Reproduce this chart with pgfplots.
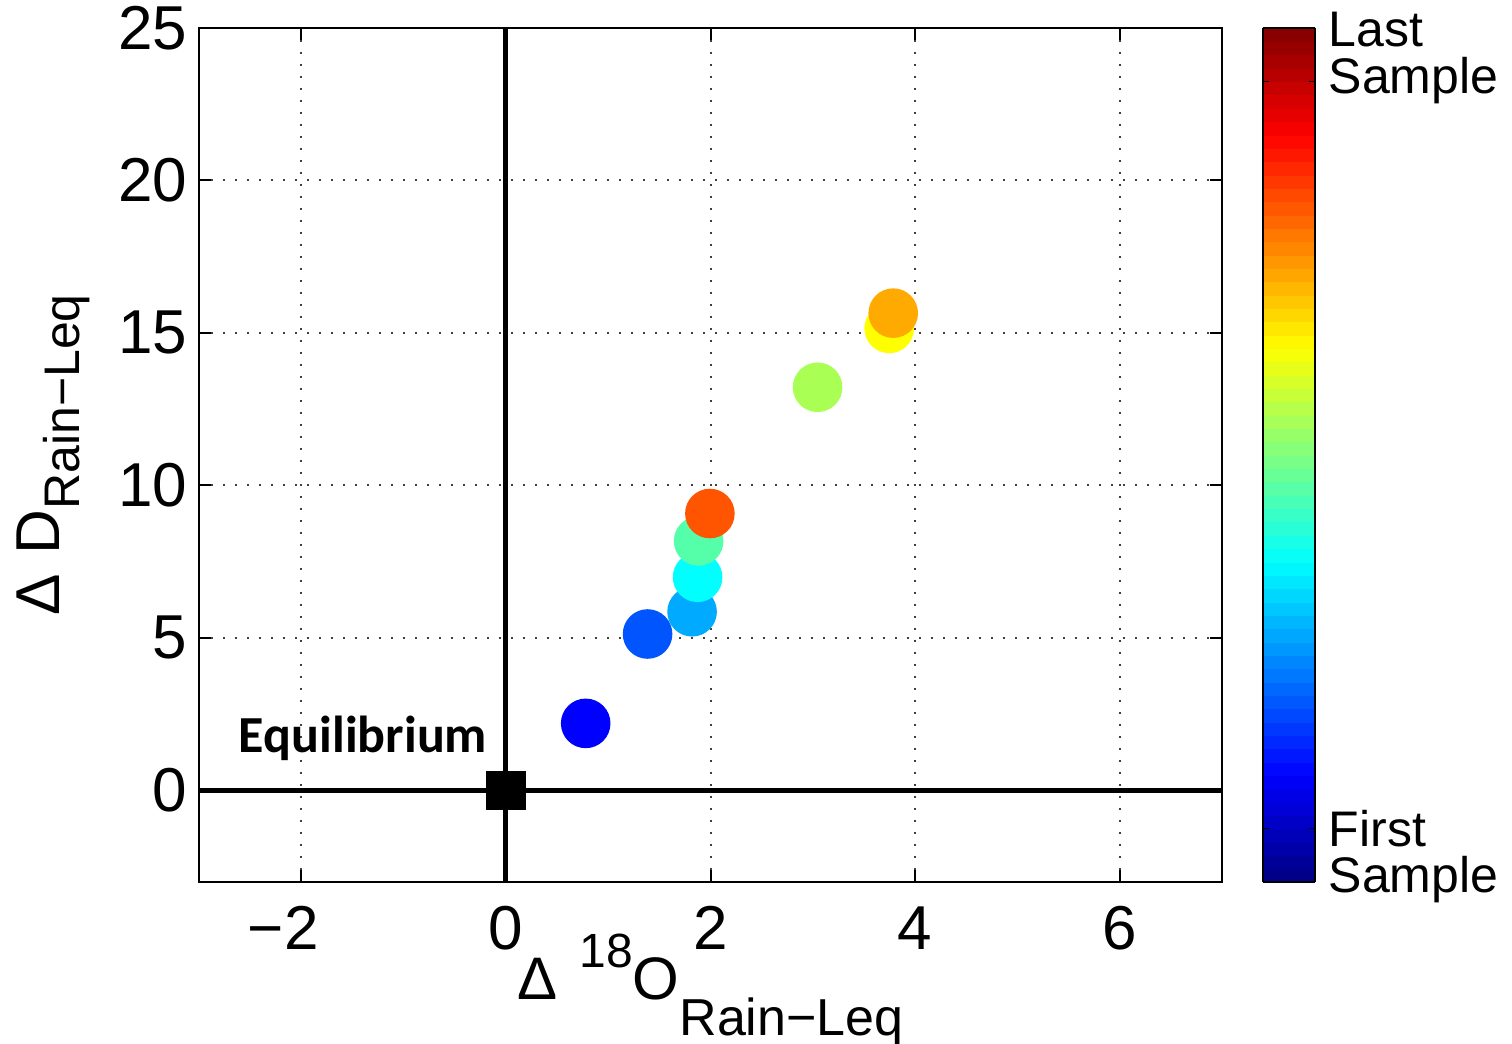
\documentclass[border=0pt]{standalone}
\usepackage{fontspec}
\setmainfont{Liberation Sans}
\newfontfamily\calibri{Carlito}
\usepackage{pgfplots}
\pgfplotsset{compat=1.18}

% Matlab-like jet
\pgfplotsset{
  colormap={matjet}{rgb255(0cm)=(0,0,128) rgb255(1cm)=(0,0,255) rgb255(3cm)=(0,255,255)
    rgb255(5cm)=(255,255,0) rgb255(7cm)=(255,0,0) rgb255(8cm)=(128,0,0)}
}

\begin{document}
\begin{tikzpicture}
\useasboundingbox (-49.75pt,-40.5pt) rectangle (328.25pt,220.5pt);
\begin{axis}[
  name=ax,
  at={(0,0)}, anchor=south west,
  scale only axis,
  width=255.75pt, height=213.5pt,
  xmin=-3, xmax=7, ymin=-3, ymax=25,
  xtick={-2,0,2,4,6}, xticklabels={\llap{−}2,0,2,4,6},
  ytick={0,5,10,15,20,25}, yticklabels={0,5,10,15,20,25},
  tick align=inside, major tick length=3pt,
  every tick/.style={black, line width=0.5pt},
  axis line style={line width=0.5pt},
  grid=major,
  major grid style={line width=0.5pt, black!75, dash pattern=on 0.5pt off 2.5pt},
  tick label style={font=\fontsize{15.5}{16}\selectfont},
  xticklabel style={anchor=base, yshift=-17pt, inner sep=0pt},
  yticklabel style={anchor=east, inner sep=0pt, xshift=-2.75pt},
  colormap name=matjet,
  point meta min=-0.5, point meta max=11.5,
  colorbar right,
  colorbar sampled,
  colorbar style={
    at={(parent axis.north east)}, anchor=north west, xshift=1.71pt,
    width=13pt,
    samples=65,
    ytick={0.25,10.75}, yticklabels={\relax,\relax},
    major tick length=1.5pt, tick align=inside, ytick pos=both,
    axis line style={line width=0.5pt},
    every tick/.style={black, line width=0.4pt},
  },
]
\addplot[black, line width=1.2pt] coordinates {(0,-3) (0,25)};
\addplot[black, line width=1.2pt] coordinates {(-3,0) (7,0)};
\addplot[only marks, mark=square*, mark size=4.75pt, black] coordinates {(0,0)};
\addplot[scatter, only marks, mark=*, mark size=6pt, point meta=explicit,
  scatter/use mapped color={draw=mapped color, fill=mapped color}]
  table[x=x, y=y, meta=c] {
x     y     c
0.78  2.20  1
1.385 5.13  2
1.82  5.86  3
1.874 6.99  4
1.884 8.18  5
3.047 13.22 6
3.747 15.15 7
3.786 15.65 8
1.994 9.08  9
};
\node[anchor=base east, inner sep=0pt, font=\calibri\bfseries\fontsize{13}{13}\selectfont]
  at (axis cs:-0.176,1.23) {Equilibrium};
\end{axis}

\node[rotate=90, anchor=base, inner sep=0pt] at ([xshift=-34.75pt]ax.west)
  {\fontsize{15.5}{15.5}\selectfont Δ\hspace{5pt}D\raisebox{-5pt}{\fontsize{12.5}{12.5}\selectfont Rain−Leq}};
\node[anchor=base, inner sep=0pt] at ([yshift=-29.5pt]ax.south)
  {\fontsize{15}{15}\selectfont Δ\hspace{5.5pt}\raisebox{8pt}{\fontsize{12}{12}\selectfont 18}O\raisebox{-9pt}{\fontsize{13}{13}\selectfont Rain−Leq}};

\node[anchor=base west, inner sep=0pt, font=\fontsize{12.5}{12.5}\selectfont]
  at ([xshift=26.5pt,yshift=-4.75pt]ax.north east) {Last};
\node[anchor=base west, inner sep=0pt, font=\fontsize{12.5}{12.5}\selectfont]
  at ([xshift=26.5pt,yshift=-16.5pt]ax.north east) {Sample};
\node[anchor=base west, inner sep=0pt, font=\fontsize{12.5}{12.5}\selectfont]
  at ([xshift=26.5pt,yshift=8.75pt]ax.south east) {First};
\node[anchor=base west, inner sep=0pt, font=\fontsize{12.5}{12.5}\selectfont]
  at ([xshift=26.5pt,yshift=-2.75pt]ax.south east) {Sample};
\end{tikzpicture}
\end{document}
